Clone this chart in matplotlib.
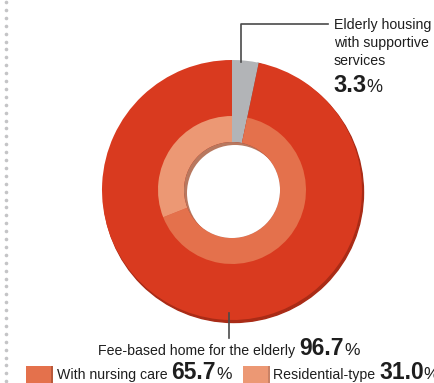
import numpy as np
import matplotlib
matplotlib.use("Agg")
import matplotlib.pyplot as plt
from matplotlib import font_manager
from matplotlib.patches import Wedge, Circle, Rectangle

# --- data -------------------------------------------------------------
outer_labels = ["Elderly housing with supportive services", "Fee-based home for the elderly"]
outer_values = [3.3, 96.7]
inner_labels = ["With nursing care", "Residential-type"]
inner_values = [65.7, 31.0]

# --- style ------------------------------------------------------------
RED = "#D93A1F"
RED_DARK = "#A92B16"
GRAY = "#B2B4B7"
GRAY_DARK = "#6C6F73"
NURSING = "#E4714C"
RESID = "#EC9874"
HOLE_SHADE = "#B8785F"
LINE = "#4A4A4A"
LABEL = 10.2

names = {f.name for f in font_manager.fontManager.ttflist}
FAM = ["Liberation Sans Narrow", "DejaVu Sans"] if "Liberation Sans Narrow" in names else ["Liberation Sans", "DejaVu Sans"]
plt.rcParams["font.family"] = FAM

W, H = 434, 383
fig = plt.figure(figsize=(W / 100, H / 100), dpi=100)
ax = fig.add_axes([0, 0, 1, 1])


def Y(y_img):
    return H - y_img


cx, cy = 232, Y(190)
R_OUT, R_MID, R_HOLE = 130, 74, 48

# drop shadow of the outer ring
ax.add_patch(Circle((cx + 1.5, cy - 2.5), R_OUT, color=RED_DARK, zorder=1))

# outer ring: supportive-services housing vs fee-based homes
ax.pie(outer_values, colors=[GRAY, RED], startangle=90, counterclock=False,
       radius=R_OUT, center=(cx, cy), frame=True,
       wedgeprops=dict(width=R_OUT - R_HOLE, linewidth=0, zorder=2))

# darker edge on the clockwise side of the grey wedge
gray_end = 90 - outer_values[0] / sum(outer_values) * 360
ax.add_patch(Wedge((cx, cy), R_OUT, gray_end - 1.2, gray_end + 0.6,
                   width=R_OUT - R_HOLE, color=GRAY_DARK, lw=0, zorder=1.5))

# inner ring: breakdown of fee-based homes
inner_wedges, _ = ax.pie([outer_values[0]] + inner_values,
                         colors=["none", NURSING, RESID], startangle=90,
                         counterclock=False, radius=R_MID, center=(cx, cy),
                         frame=True,
                         wedgeprops=dict(width=R_MID - R_HOLE, linewidth=0, zorder=3))
inner_wedges[0].set_visible(False)
ax.set_xlim(0, W)
ax.set_ylim(0, H)
ax.set_aspect("equal")
ax.axis("off")

# hole with an inset shadow at the upper left
hole = Circle((cx, cy), R_HOLE, color=HOLE_SHADE, lw=0, zorder=4)
ax.add_patch(hole)
inner_white = Circle((cx + 3, cy - 3), R_HOLE, color="white", lw=0, zorder=5)
ax.add_patch(inner_white)
inner_white.set_clip_path(hole)

# dotted rule on the left
for yy in np.arange(2, 382, 7.9):
    ax.plot(6, Y(yy), "o", ms=2.6, color="#C4C4C6", mec="none", zorder=1)

# heading, running off the top edge
ax.text(48, Y(-6), "Type", fontsize=20, fontweight="bold", color="#1A1A1A",
        va="baseline", ha="left")

renderer = fig.canvas.get_renderer()


def run(x, y, parts, ha="left"):
    """Draw a row of text pieces side by side starting at x (baseline y)."""
    objs = []
    for s, size, weight in parts:
        t = ax.text(x, y, s, fontsize=size, fontweight=weight, color="#1E1E1E",
                    va="baseline", ha="left", zorder=10)
        objs.append(t)
    widths = [o.get_window_extent(renderer).width for o in objs]
    total = sum(widths)
    start = x - total / 2 if ha == "center" else x
    for o, w in zip(objs, widths):
        o.set_x(start)
        start += w
    return objs


# top callout
ax.plot([241, 241, 328], [Y(62), Y(24), Y(24)], color=LINE, lw=1.2, zorder=9)
for i, line in enumerate(["Elderly housing", "with supportive", "services"]):
    ax.text(334, Y(29 + 18 * i), line, fontsize=LABEL, va="baseline", color="#1E1E1E")
run(333, Y(92), [(f"{outer_values[0]:.1f}", 17, "bold"), ("%", 13, "normal")])

# bottom callout
ax.plot([229, 229], [Y(313), Y(338)], color=LINE, lw=1.2, zorder=9)
run(229, Y(355), [(outer_labels[1] + " ", LABEL, "normal"),
                  (f"{outer_values[1]:.1f}", 16.5, "bold"), ("%", 12.5, "normal")],
    ha="center")

# legend row
for x0, col, edge in [(26, NURSING, "#B9593A"), (243, RESID, "#C98266")]:
    ax.add_patch(Rectangle((x0, Y(390)), 27, 24, color=col, lw=0, zorder=8))
    ax.add_patch(Rectangle((x0 + 24.5, Y(390)), 2.5, 24, color=edge, lw=0, zorder=8))
run(57, Y(379), [(inner_labels[0] + " ", LABEL, "normal"),
                 (f"{inner_values[0]:.1f}", 16.5, "bold"), ("%", 12.5, "normal")])
run(273, Y(379), [(inner_labels[1] + " ", LABEL, "normal"),
                  (f"{inner_values[1]:.1f}", 16.5, "bold"), ("%", 12.5, "normal")])

fig.savefig("out.png", dpi=100)
